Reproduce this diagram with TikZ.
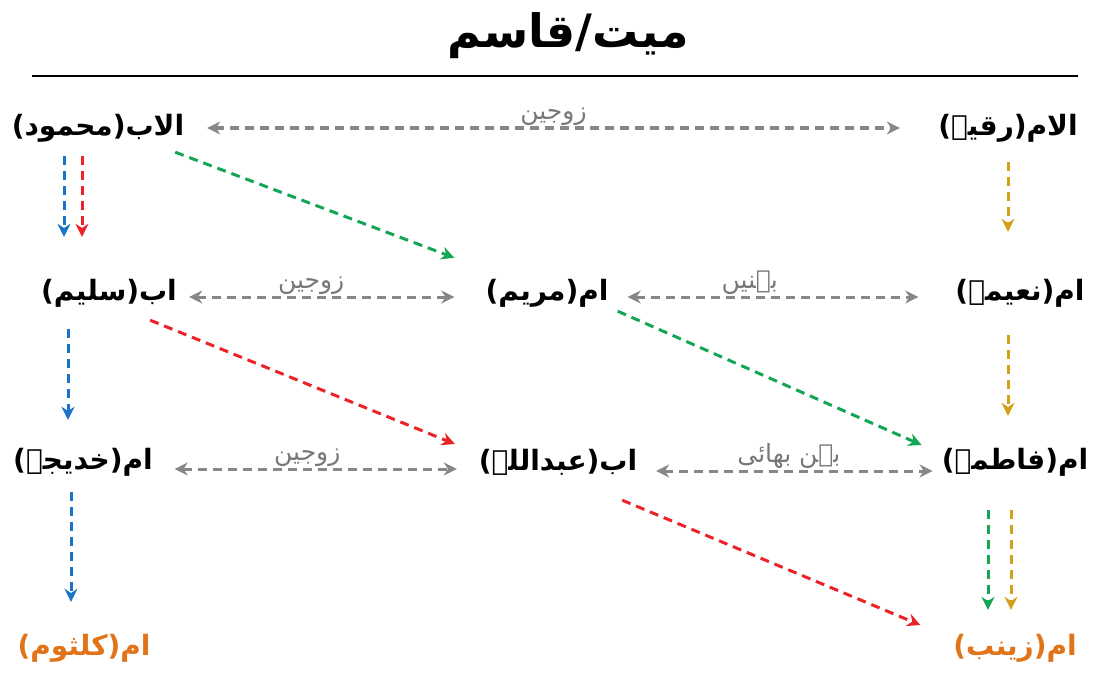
\documentclass[tikz,border=0pt]{standalone}
\usepackage{fontspec}
\usepackage{tikz}
\usetikzlibrary{arrows.meta}
\TeXXeTstate=1
\newfontfamily\urdufont[Script=Arabic]{DejaVu Sans}
\newcommand{\urtext}[1]{\beginR #1\endR}
\definecolor{LineBlue}{RGB}{25,115,200}
\definecolor{LineRed}{RGB}{235,35,40}
\definecolor{LineGreen}{RGB}{20,165,85}
\definecolor{LineGold}{RGB}{210,160,25}
\definecolor{LineGray}{RGB}{135,135,135}
\definecolor{LabelGray}{RGB}{120,120,120}
\definecolor{HeirOrange}{RGB}{225,115,25}
\tikzset{
  person/.style={font=\urdufont\bfseries\fontsize{28}{32}\selectfont,inner sep=0pt,
    minimum height=56pt,align=center},
  heir/.style={person,text=HeirOrange},
  edgelabel/.style={font=\urdufont\fontsize{25}{28}\selectfont,text=LabelGray,
    above=1pt,inner sep=0pt},
  dashedge/.style={line width=3pt,dash pattern=on 9pt off 6pt,
    -{Stealth[length=13pt,width=13pt]}},
  grayedge/.style={dashedge,draw=LineGray,{Stealth[length=13pt,width=13pt]}-{Stealth[length=13pt,width=13pt]}},
  blueedge/.style={dashedge,draw=LineBlue},
  rededge/.style={dashedge,draw=LineRed},
  greenedge/.style={dashedge,draw=LineGreen},
  goldedge/.style={dashedge,draw=LineGold},
}
\begin{document}
\begin{tikzpicture}[x=1pt,y=-1pt]
  \useasboundingbox (0,0) rectangle (1110,690);

  % title
  \node[font=\urdufont\bfseries\fontsize{46}{52}\selectfont] (title) at (568,36) {\urtext{میت/قاسم}};
  \draw[line width=2.2pt] (32,76) -- (1078,76);

  % people
  \node[person,minimum width=176pt] (mahmood) at (98,128) {\urtext{الاب(محمود)}};
  \node[person,minimum width=170pt] (ruqayya) at (1008,128) {\urtext{الام(رقیہ)}};
  \node[person,minimum width=140pt] (saleem) at (109,293) {\urtext{اب(سلیم)}};
  \node[person,minimum width=137pt] (maryam) at (547,293) {\urtext{ام(مریم)}};
  \node[person,minimum width=125pt] (naeema) at (1020,293) {\urtext{ام(نعیمہ)}};
  \node[person,minimum width=143pt] (khadija) at (83,462) {\urtext{ام(خدیجہ)}};
  \node[person,minimum width=180pt] (abdullah) at (558,462) {\urtext{اب(عبداللہ)}};
  \node[person,minimum width=135pt] (fatima) at (1015,462) {\urtext{ام(فاطمہ)}};
  \node[heir,minimum width=141pt] (kulthum) at (84,648) {\urtext{ام(کلثوم)}};
  \node[heir,minimum width=135pt] (zainab) at (1015,648) {\urtext{ام(زینب)}};

  % spouses and siblings
  \draw[grayedge] ([shift={(21,0)}]mahmood.east) -- ([shift={(-23,0)}]ruqayya.west)
    node[edgelabel,pos=.5] {\urtext{زوجین}};
  \draw[grayedge] ([shift={(10,4)}]saleem.east) -- ([shift={(-24,4)}]maryam.west)
    node[edgelabel,pos=.46] {\urtext{زوجین}};
  \draw[grayedge] ([shift={(12,4)}]maryam.east) -- ([shift={(-37,4)}]naeema.west)
    node[edgelabel,pos=.42] {\urtext{بہنیں}};
  \draw[grayedge] ([shift={(20,7)}]khadija.east) -- ([shift={(-11,7)}]abdullah.west)
    node[edgelabel,pos=.47] {\urtext{زوجین}};
  \draw[grayedge] ([shift={(8,9)}]abdullah.east) -- ([shift={(-9,9)}]fatima.west)
    node[edgelabel,pos=.48] {\urtext{بہن بھائی}};

  % father's side
  \draw[blueedge] ([shift={(-34,0)}]mahmood.south) -- ([shift={(-45,-28)}]saleem.north);
  \draw[rededge] ([shift={(-16,0)}]mahmood.south) -- ([shift={(-27,-28)}]saleem.north);
  \draw[blueedge] ([shift={(-41,8)}]saleem.south) -- ([shift={(-15,-14)}]khadija.north);
  \draw[blueedge] ([shift={(-12,2)}]khadija.south) -- ([shift={(-13,-18)}]kulthum.north);
  \draw[greenedge] ([shift={(-11,-4)}]mahmood.south east) -- ([shift={(-24,-7)}]maryam.north west);
  \draw[rededge] ([shift={(-29,-1)}]saleem.south east) -- ([shift={(-13,-18)}]abdullah.west);

  % mother's side
  \draw[goldedge] ([shift={(0,6)}]ruqayya.south) -- ([shift={(-12,-33)}]naeema.north);
  \draw[goldedge] ([shift={(-12,14)}]naeema.south) -- ([shift={(-7,-18)}]fatima.north);
  \draw[greenedge] ([shift={(2,-10)}]maryam.south east) -- ([shift={(-20,-17)}]fatima.west);
  \draw[rededge] ([shift={(-26,10)}]abdullah.south east) -- ([shift={(-27,-23)}]zainab.west);
  \draw[greenedge] ([shift={(-27,20)}]fatima.south) -- ([shift={(-27,-10)}]zainab.north);
  \draw[goldedge] ([shift={(-4,20)}]fatima.south) -- ([shift={(-4,-10)}]zainab.north);
\end{tikzpicture}
\end{document}
